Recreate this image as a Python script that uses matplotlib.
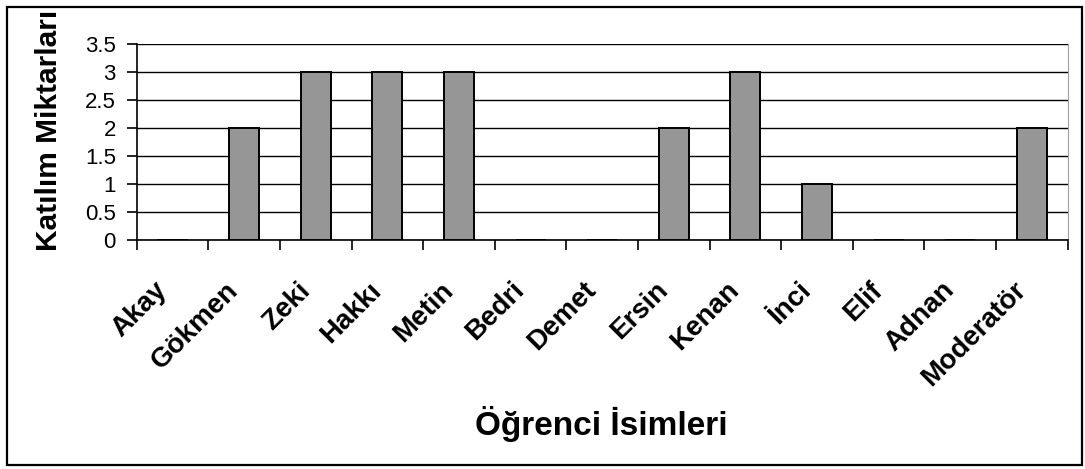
import matplotlib.pyplot as plt
import matplotlib.transforms as mtransforms
import numpy as np

isimler = ["Akay", "Gökmen", "Zeki", "Hakkı", "Metin", "Bedri", "Demet",
           "Ersin", "Kenan", "İnci", "Elif", "Adnan", "Moderatör"]
katilim = [0, 2, 3, 3, 3, 0, 0, 2, 3, 1, 0, 0, 2]
yticks = [0, 0.5, 1, 1.5, 2, 2.5, 3, 3.5]

plt.rcParams['font.family'] = ['Liberation Sans', 'DejaVu Sans']

fig = plt.figure(figsize=(10.85, 4.69), dpi=100)
ax = fig.add_axes([0.126, 0.488, 0.858, 0.418])

x = np.arange(len(isimler))
ax.bar(x, katilim, width=0.42, color='#969696', edgecolor='black', linewidth=1.4, zorder=3)

ax.set_xlim(-0.5, len(isimler) - 0.5)
ax.set_ylim(0, 3.5)
ax.set_yticks(yticks)
ax.set_yticklabels([f"{v:g}" for v in yticks], fontsize=16)
ax.yaxis.grid(True, color='black', linewidth=1)
ax.set_axisbelow(True)

# tick marks between categories, labels at the centres
ax.set_xticks(np.arange(len(isimler) + 1) - 0.5)
ax.set_xticklabels([])
ax.set_xticks(x, minor=True)
ax.set_xticklabels(isimler, minor=True, rotation=45, ha='right', va='top',
                   rotation_mode='anchor', fontsize=20, fontweight='bold')
ax.tick_params(axis='x', which='minor', length=0, pad=0)
ax.tick_params(axis='x', which='major', length=7, width=1.2)
ax.tick_params(axis='y', length=7, width=1.2, pad=8)

kaydir = mtransforms.ScaledTranslation(-0.19, -0.37, fig.dpi_scale_trans)
for lbl in ax.get_xticklabels(minor=True):
    lbl.set_transform(lbl.get_transform() + kaydir)

ax.spines['top'].set_visible(False)
ax.spines['right'].set_color('#a0a0a0')
ax.spines['left'].set_linewidth(1.2)
ax.spines['bottom'].set_linewidth(1.2)

fig.text(0.045, 0.723, "Katılım Miktarları", fontsize=21.5, fontweight='bold',
         rotation=90, ha='center', va='center')
fig.text(0.554, 0.0725, "Öğrenci İsimleri", fontsize=24, fontweight='bold',
         ha='center', va='baseline')

# outer frame around the chart
fig.patches.append(plt.Rectangle((0.0065, 0.0085), 0.991, 0.9765, transform=fig.transFigure,
                                 fill=False, edgecolor='black', linewidth=1.6))

fig.savefig("out.png", dpi=100)
